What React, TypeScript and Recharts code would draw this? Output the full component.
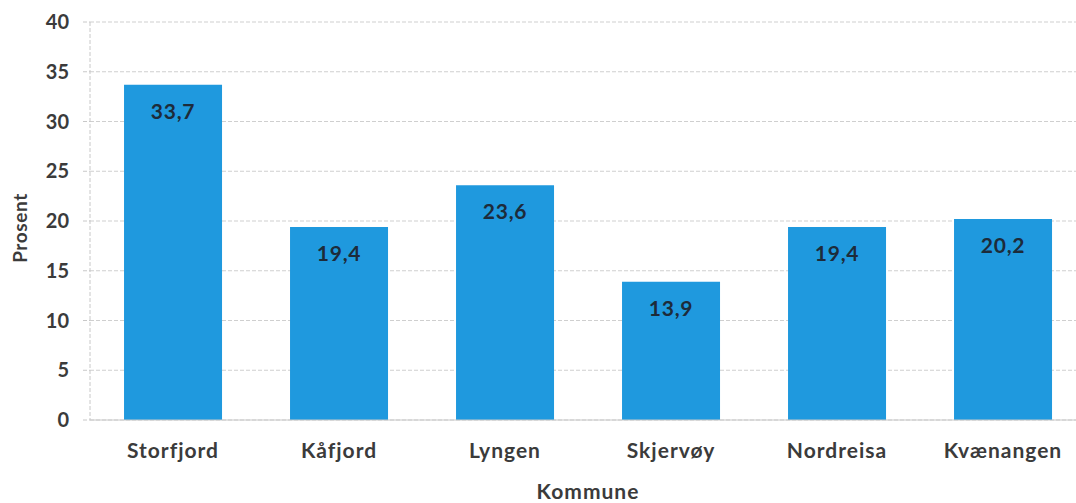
import { BarChart, Bar, XAxis, YAxis, CartesianGrid, LabelList, Label } from "recharts";

const kommuner = ["Storfjord", "Kåfjord", "Lyngen", "Skjervøy", "Nordreisa", "Kvænangen"];
const prosent = [33.7, 19.4, 23.6, 13.9, 19.4, 20.2];
const yTicks = [0, 5, 10, 15, 20, 25, 30, 35, 40];

const data = kommuner.map((k, i) => ({ kommune: k, prosent: prosent[i] }));

const FONT = "Lato, 'Open Sans', sans-serif";
const TEXT = "#3b3b3b";

function YTitle(props: any) {
  const vb = props.viewBox || { x: 0, y: 0, width: 0, height: 0 };
  const cx = 19;
  const cy = vb.y + vb.height / 2 + 7;
  return (
    <text
      x={cx}
      y={cy}
      transform={`rotate(-90, ${cx}, ${cy})`}
      textAnchor="middle"
      dominantBaseline="central"
      fontFamily={FONT}
      fontWeight={700}
      fontSize={19}
      letterSpacing={0.6}
      fill={TEXT}
    >
      Prosent
    </text>
  );
}

export default function App() {
  return (
    <div style={{ position: "absolute", left: 0, top: 0, width: 1076, height: 503, overflow: "hidden", background: "#fff" }}>
      <BarChart
        width={1096}
        height={503}
        data={data}
        margin={{ top: 22, right: 10, left: 0, bottom: 4 }}
        barCategoryGap="20.5%"
      >
        <CartesianGrid vertical={false} stroke="#cfcfcf" strokeDasharray="4 2" />
        <XAxis
          dataKey="kommune"
          height={79}
          stroke="#c8c8c8"
          tickLine={false}
          tick={{ fontFamily: FONT, fontWeight: 700, fontSize: 21, fill: TEXT, letterSpacing: 1 }}
          tickMargin={17}
          interval={0}
        >
          <Label
            value="Kommune"
            position="insideBottom"
            offset={0}
            style={{ fontFamily: FONT, fontWeight: 700, fontSize: 21, fill: TEXT, letterSpacing: 1 }}
          />
        </XAxis>
        <YAxis
          width={90}
          domain={[0, 40]}
          ticks={yTicks}
          interval={0}
          stroke="#c8c8c8"
          strokeDasharray="4 2"
          tickSize={7}
          tickMargin={14}
          tick={{ fontFamily: FONT, fontWeight: 700, fontSize: 20, fill: TEXT }}
          label={<YTitle />}
        />
        <Bar dataKey="prosent" fill="#1f99de" isAnimationActive={false}>
          <LabelList
            dataKey="prosent"
            position="insideTop"
            offset={19}
            formatter={(v: any) => String(v).replace(".", ",")}
            style={{ fontFamily: FONT, fontWeight: 700, fontSize: 21, fill: "#1d2b3a", letterSpacing: 0.8 }}
          />
        </Bar>
      </BarChart>
    </div>
  );
}
